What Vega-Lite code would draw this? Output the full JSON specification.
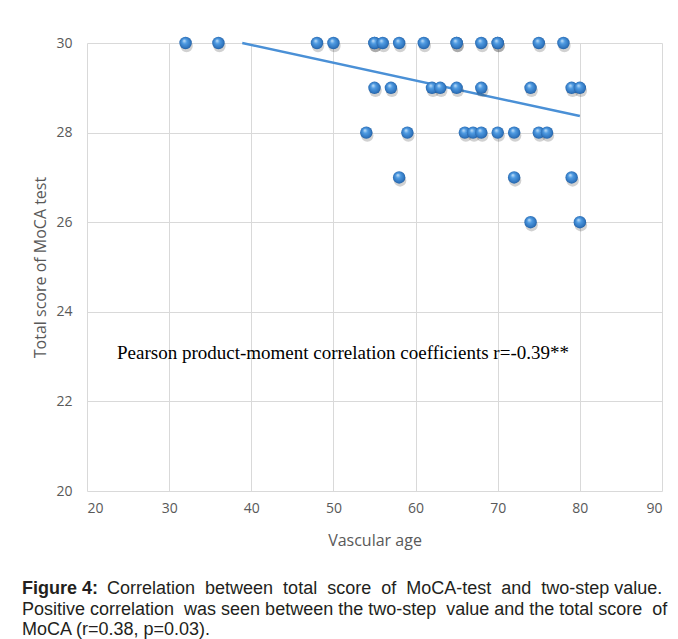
{
  "$schema": "https://vega.github.io/schema/vega-lite/v6.json",
  "width": 575,
  "height": 448,
  "autosize": {"type": "none"},
  "padding": {"left": 87, "top": 43, "right": 16, "bottom": 148},
  "background": "white",
  "config": {"view": {"stroke": null}},
  "title": {
    "text": "Figure 4:",
    "subtitle": [
      "\u200b\u00a0\u00a0\u00a0\u00a0\u00a0\u00a0\u00a0\u00a0\u00a0\u00a0\u00a0\u00a0\u00a0\u00a0\u00a0\u00a0\u00a0Correlation \u00a0between \u00a0total \u00a0score \u00a0of \u00a0MoCA-test \u00a0and \u00a0two-step value.",
      "Positive correlation \u00a0was seen between the two-step \u00a0value and the total score \u00a0of",
      "MoCA (r=0.38, p=0.03)."
    ],
    "orient": "bottom",
    "anchor": "start",
    "frame": "group",
    "dx": -65,
    "offset": 32,
    "font": "Liberation Sans",
    "fontSize": 18,
    "fontWeight": "bold",
    "color": "#231f20",
    "subtitleFont": "Liberation Sans",
    "subtitleFontSize": 18,
    "subtitleFontWeight": "normal",
    "subtitleColor": "#231f20",
    "subtitleLineHeight": 20.5,
    "subtitlePadding": -18
  },
  "datasets": {
    "points": [
      {"age": 32, "score": 30}, {"age": 36, "score": 30}, {"age": 48, "score": 30}, {"age": 50, "score": 30},
      {"age": 55, "score": 30}, {"age": 55, "score": 30}, {"age": 56, "score": 30}, {"age": 58, "score": 30},
      {"age": 61, "score": 30}, {"age": 65, "score": 30}, {"age": 65, "score": 30}, {"age": 68, "score": 30},
      {"age": 70, "score": 30}, {"age": 70, "score": 30}, {"age": 75, "score": 30}, {"age": 78, "score": 30},
      {"age": 55, "score": 29}, {"age": 57, "score": 29}, {"age": 62, "score": 29}, {"age": 63, "score": 29},
      {"age": 65, "score": 29}, {"age": 68, "score": 29}, {"age": 74, "score": 29}, {"age": 79, "score": 29},
      {"age": 80, "score": 29},
      {"age": 54, "score": 28}, {"age": 59, "score": 28}, {"age": 66, "score": 28}, {"age": 67, "score": 28},
      {"age": 68, "score": 28}, {"age": 70, "score": 28}, {"age": 72, "score": 28}, {"age": 75, "score": 28},
      {"age": 76, "score": 28},
      {"age": 58, "score": 27}, {"age": 72, "score": 27}, {"age": 79, "score": 27},
      {"age": 74, "score": 26}, {"age": 80, "score": 26}
    ],
    "trend": [
      {"age": 38.9, "score": 30},
      {"age": 80, "score": 28.37}
    ],
    "note": [
      {"age": 23.65, "score": 23.08, "label": "Pearson product-moment correlation coefficients r=-0.39**"}
    ]
  },
  "encoding": {
    "x": {
      "field": "age", "type": "quantitative",
      "scale": {"domain": [20, 90], "nice": false, "zero": false},
      "axis": {
        "title": "Vascular age", "values": [20, 30, 40, 50, 60, 70, 80, 90],
        "domain": false, "ticks": false, "grid": true, "gridColor": "#d9d9d9", "gridWidth": 1,
        "labelFont": "Open Sans", "labelFontSize": 14, "labelColor": "#595959", "labelPadding": 10,
        "titleFont": "Open Sans", "titleFontSize": 16, "titleFontWeight": "normal", "titleColor": "#595959", "titlePadding": 17
      }
    },
    "y": {
      "field": "score", "type": "quantitative",
      "scale": {"domain": [20, 30], "nice": false, "zero": false},
      "axis": {
        "title": "Total score of MoCA test", "values": [20, 22, 24, 26, 28, 30],
        "domain": false, "ticks": false, "grid": true, "gridColor": "#d9d9d9", "gridWidth": 1,
        "labelFont": "Open Sans", "labelFontSize": 14, "labelColor": "#595959", "labelPadding": 15,
        "titleFont": "Open Sans", "titleFontSize": 16, "titleFontWeight": "normal", "titleColor": "#595959", "titlePadding": 7
      }
    }
  },
  "layer": [
    {
      "data": {"name": "trend"},
      "mark": {"type": "line", "color": "#4a90d6", "strokeWidth": 2.5}
    },
    {
      "data": {"name": "points"},
      "mark": {"type": "circle", "size": 155, "yOffset": 3, "xOffset": 1, "color": "#000000", "opacity": 0.18}
    },
    {
      "data": {"name": "points"},
      "mark": {
        "type": "circle", "size": 155, "opacity": 1,
        "color": {
          "gradient": "radial", "x1": 0.38, "y1": 0.3, "r1": 0, "x2": 0.5, "y2": 0.5, "r2": 0.55,
          "stops": [
            {"offset": 0, "color": "#cde6fa"},
            {"offset": 0.35, "color": "#4f9be2"},
            {"offset": 0.8, "color": "#2f74bd"},
            {"offset": 1, "color": "#1d5593"}
          ]
        }
      }
    },
    {
      "data": {"name": "note"},
      "mark": {"type": "text", "align": "left", "baseline": "middle", "font": "Liberation Serif", "fontSize": 19, "color": "#000000"},
      "encoding": {"text": {"field": "label"}}
    }
  ]
}
